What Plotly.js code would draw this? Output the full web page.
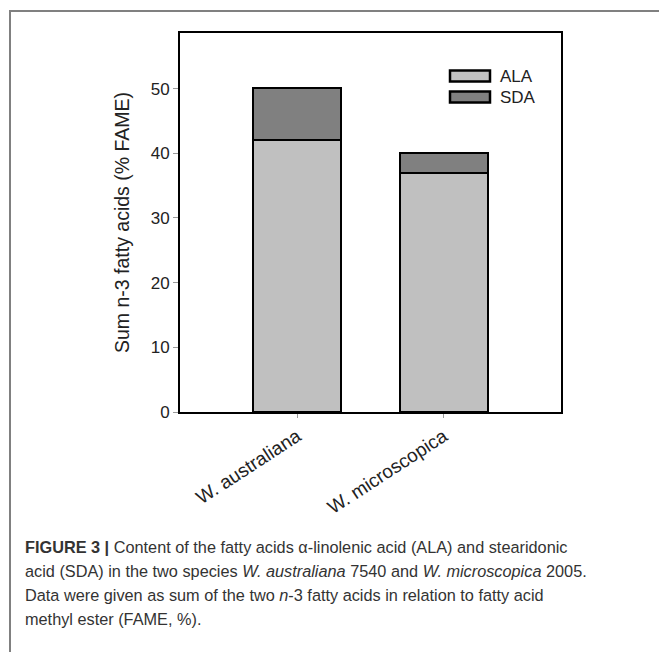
<!DOCTYPE html>
<html>
<head>
<meta charset="utf-8">
<script src="https://cdn.plot.ly/plotly-3.0.1.min.js"></script>
<style>
html,body{margin:0;padding:0;background:#fff;}
#chart{width:659px;height:652px;}
</style>
</head>
<body>
<div id="chart"></div>
<script>
// ---- data ----
var species = ["W. australiana", "W. microscopica"];
var alaValues = [42.0, 37.0];
var sdaValues = [8.1, 3.1];
var seriesNames = ["ALA", "SDA"];
var seriesColors = ["#c0c0c0", "#808080"];
var yTickVals = [0, 10, 20, 30, 40, 50];
var captionLines = [
  "<b>FIGURE 3 |</b> Content of the fatty acids α-linolenic acid (ALA) and stearidonic",
  "acid (SDA) in the two species <i>W. australiana</i> 7540 and <i>W. microscopica</i> 2005.",
  "Data were given as sum of the two <i>n</i>-3 fatty acids in relation to fatty acid",
  "methyl ester (FAME, %)."
];

// ---- layout geometry (pixels) ----
var W = 659, H = 652;
var M = {l: 180, r: 98, t: 33, b: 240};
var pw = W - M.l - M.r, ph = H - M.t - M.b;
function px(x) { return (x - M.l) / pw; }
function py(y) { return (H - M.b - y) / ph; }

var traces = [
  {type: "bar", x: species, y: alaValues, name: seriesNames[0], width: 0.6,
   marker: {color: seriesColors[0], line: {color: "#000", width: 2}}, showlegend: false},
  {type: "bar", x: species, y: sdaValues, name: seriesNames[1], width: 0.6,
   marker: {color: seriesColors[1], line: {color: "#000", width: 2}}, showlegend: false}
];

var shapes = [
  // figure border (left and top)
  {type: "line", xref: "paper", yref: "paper", x0: px(10), x1: px(10), y0: py(11), y1: py(652),
   line: {color: "#808080", width: 2}},
  {type: "line", xref: "paper", yref: "paper", x0: px(9), x1: px(660), y0: py(11), y1: py(11),
   line: {color: "#808080", width: 2}}
];
var annotations = [];
// legend drawn manually (wide swatches)
var legY = [76, 97];
for (var i = 0; i < seriesNames.length; i++) {
  shapes.push({type: "rect", xref: "paper", yref: "paper",
    x0: px(450), x1: px(490), y0: py(legY[i] - 5.5), y1: py(legY[i] + 5.5),
    fillcolor: seriesColors[i], line: {color: "#000", width: 2.5}});
  annotations.push({xref: "paper", yref: "paper", x: px(498), y: py(legY[i]),
    xanchor: "left", yanchor: "middle", showarrow: false, text: seriesNames[i],
    font: {family: "Liberation Sans, Arial, sans-serif", size: 17, color: "#222"}});
}
var capY = [547, 571, 595, 619];
for (var j = 0; j < captionLines.length; j++) {
  annotations.push({xref: "paper", yref: "paper", x: px(23), y: py(capY[j]),
    xanchor: "left", yanchor: "middle", showarrow: false, align: "left",
    text: captionLines[j],
    font: {family: "Liberation Sans, Arial, sans-serif", size: 16.3, color: "#333"}});
}

var layout = {
  width: W, height: H,
  margin: M,
  paper_bgcolor: "#fff", plot_bgcolor: "#fff",
  barmode: "stack",
  showlegend: false,
  font: {family: "Liberation Sans, Arial, sans-serif", color: "#222"},
  xaxis: {
    range: [-0.8, 1.8], showgrid: false, zeroline: false,
    showline: true, linecolor: "#000", linewidth: 2, mirror: true,
    ticks: "outside", ticklen: 4, tickcolor: "#999", tickwidth: 1,
    tickangle: -33, tickfont: {size: 19, color: "#222"}
  },
  yaxis: {
    range: [0, 58.6], showgrid: false, zeroline: false,
    showline: true, linecolor: "#000", linewidth: 2, mirror: true,
    ticks: "outside", ticklen: 5, tickcolor: "#999", tickwidth: 1,
    tickvals: yTickVals, tickfont: {size: 17, color: "#222"},
    title: {text: "Sum n-3 fatty acids (% FAME)", font: {size: 19.5, color: "#222"}, standoff: 16}
  },
  shapes: shapes,
  annotations: annotations
};

Plotly.newPlot("chart", traces, layout, {displayModeBar: false, staticPlot: true});
</script>
</body>
</html>
